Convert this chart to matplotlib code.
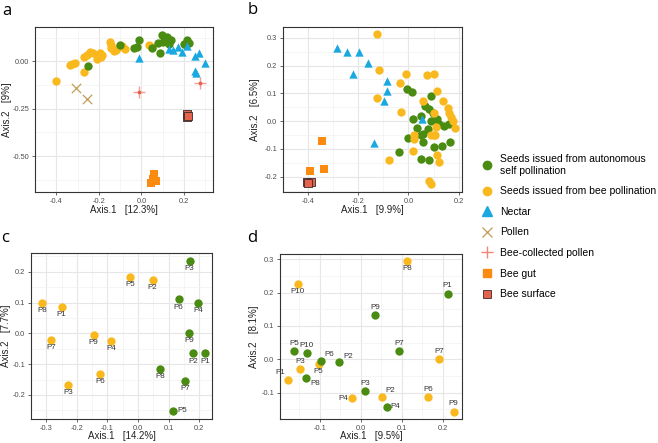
import numpy as np
import matplotlib
matplotlib.use("Agg")
import matplotlib.pyplot as plt
from matplotlib.lines import Line2D

plt.rcParams['font.family'] = ['Liberation Sans', 'DejaVu Sans']

# ---- panel a ----
a_auto_x = [-0.25, -0.10, -0.036, -0.02, -0.01, 0.05, 0.087, 0.08, 0.095, 0.11, 0.12, 0.14, 0.13,
            0.10, 0.20, 0.215, 0.225, 0.21]
a_auto_y = [-0.025, 0.086, 0.07, 0.075, 0.11, 0.07, 0.044, 0.095, 0.14, 0.12, 0.13, 0.11, 0.09,
            0.10, 0.09, 0.11, 0.095, 0.085]
a_bee_x = [-0.40, -0.335, -0.325, -0.313, -0.27, -0.27, -0.255, -0.24, -0.227, -0.197, -0.19,
           -0.184, -0.146, -0.142, -0.145, -0.118, -0.105, -0.09, -0.075, 0.035, 0.05, -0.13, -0.21]
a_bee_y = [-0.104, -0.02, -0.012, -0.007, -0.055, 0.025, 0.035, 0.05, 0.045, 0.045, 0.025,
           0.035, 0.104, 0.07, 0.085, 0.06, 0.075, 0.08, 0.065, 0.087, 0.076, 0.055, 0.01]
a_nectar_x = [-0.01, 0.13, 0.15, 0.17, 0.19, 0.215, 0.25, 0.27, 0.30, 0.25, 0.255]
a_nectar_y = [0.017, 0.065, 0.06, 0.075, 0.05, 0.08, 0.03, 0.044, -0.01, -0.05, -0.06]
a_pollen_x = [-0.306, -0.258]
a_pollen_y = [-0.143, -0.20]
a_bcp_x = [-0.011, 0.277]
a_bcp_y = [-0.164, -0.116]
a_gut_x = [0.06, 0.047, 0.07, 0.055]
a_gut_y = [-0.596, -0.64, -0.63, -0.62]
a_surf_x = [0.216, 0.212, 0.22]
a_surf_y = [-0.28, -0.295, -0.288]

# ---- panel b ----
b_auto_x = [-0.006, 0.015, 0.089, 0.066, 0.098, 0.08, 0.112, 0.14, 0.162, 0.12, 0.02, 0.05,
            0.035, 0.06, 0.076, 0.0, 0.06, 0.10, 0.135, 0.165, -0.038, 0.051, 0.08, 0.05, 0.09]
b_auto_y = [0.115, 0.105, 0.09, 0.054, 0.03, 0.045, 0.007, -0.018, -0.01, -0.01, 0.007, 0.02,
            -0.025, -0.045, -0.03, -0.06, -0.075, -0.093, -0.09, -0.075, -0.11, -0.137, -0.14,
            -0.05, 0.0]
b_bee_x = [-0.125, -0.117, -0.01, 0.075, 0.10, -0.034, 0.113, -0.123, -0.028, 0.06, 0.139,
           0.158, 0.162, 0.17, 0.178, 0.187, 0.10, 0.024, 0.022, 0.017, 0.10, 0.107, 0.115,
           0.12, -0.077, 0.083, 0.089, 0.11, 0.09]
b_bee_y = [0.313, 0.183, 0.169, 0.165, 0.17, 0.138, 0.108, 0.084, 0.032, 0.073, 0.073, 0.046,
           0.03, 0.015, 0.0, -0.025, 0.03, -0.05, -0.065, -0.107, -0.05, -0.05, -0.122, -0.148,
           -0.14, -0.216, -0.227, -0.02, -0.05]
b_nectar_x = [-0.286, -0.244, -0.196, -0.16, -0.22, -0.086, -0.086, -0.098, -0.135, 0.054]
b_nectar_y = [0.264, 0.249, 0.249, 0.211, 0.168, 0.146, 0.109, 0.073, -0.077, 0.006]
b_gut_x = [-0.345, -0.337, -0.393]
b_gut_y = [-0.071, -0.174, -0.179]
b_surf_x = [-0.405, -0.387, -0.398]
b_surf_y = [-0.218, -0.218, -0.222]

# ---- panel c ----
c_bee_lab = ['P8', 'P1', 'P7', 'P3', 'P9', 'P4', 'P6', 'P5', 'P2']
c_bee_x = [-0.314, -0.25, -0.283, -0.228, -0.145, -0.089, -0.123, -0.025, 0.048]
c_bee_y = [0.10, 0.085, -0.02, -0.168, -0.005, -0.024, -0.131, 0.184, 0.174]
c_auto_lab = ['P3', 'P6', 'P4', 'P9', 'P2', 'P1', 'P8', 'P7', 'P5']
c_auto_x = [0.169, 0.133, 0.196, 0.167, 0.181, 0.219, 0.072, 0.153, 0.114]
c_auto_y = [0.234, 0.11, 0.10, 0.001, -0.065, -0.065, -0.116, -0.153, -0.252]

# ---- panel d ----
d_bee_lab = ['P8', 'P10', 'P1', 'P3', 'P5', 'P4', 'P2', 'P6', 'P7', 'P9']
d_bee_x = [0.114, -0.154, -0.178, -0.148, -0.103, -0.021, 0.051, 0.165, 0.192, 0.227]
d_bee_y = [0.295, 0.226, -0.062, -0.03, -0.015, -0.117, -0.113, -0.114, 0.001, -0.157]
d_auto_lab = ['P1', 'P9', 'P7', 'P2', 'P6', 'P10', 'P5', 'P8', 'P3', 'P4']
d_auto_x = [0.212, 0.035, 0.093, -0.052, -0.098, -0.132, -0.163, -0.134, 0.01, 0.063]
d_auto_y = [0.197, 0.132, 0.025, -0.009, -0.004, 0.018, 0.025, -0.055, -0.095, -0.143]

GREEN = "#4A8B12"
YELLOW = "#F9B91E"
BLUE = "#1AA8E0"
TAN = "#C39B55"
SALMON = "#F0857A"
ORANGE = "#FA8A10"
RED = "#E3634D"
MS = 36

W, H = 658, 443
fig = plt.figure(figsize=(W / 100, H / 100), dpi=100)


def make_ax(l, r, t, b):
    return fig.add_axes([l / W, 1 - b / H, (r - l) / W, (b - t) / H])


def style(ax, xlim, ylim, xt, yt, ytl, xlab, ylab, xlab_y, ylab_x):
    ax.set_xlim(xlim)
    ax.set_ylim(ylim)
    ax.set_xticks(xt)
    ax.set_yticks(yt)
    ax.set_yticklabels(ytl)
    ax.set_xticklabels(["%.1f" % v for v in xt])
    mx = np.arange(xt[0] - (xt[1] - xt[0]) / 2, xlim[1], xt[1] - xt[0])
    my = np.arange(yt[0] - (yt[1] - yt[0]) / 2, ylim[1], yt[1] - yt[0])
    ax.set_xticks(mx, minor=True)
    ax.set_yticks(my, minor=True)
    ax.grid(which='major', color='#E6E6E6', lw=0.8)
    ax.grid(which='minor', color='#F2F2F2', lw=0.5)
    ax.set_axisbelow(True)
    ax.tick_params(which='major', labelsize=5.3, colors='#4D4D4D', length=2.5, width=0.6, pad=1.5)
    ax.tick_params(which='minor', length=0)
    for s in ax.spines.values():
        s.set_color('#333333')
        s.set_linewidth(0.8)
    xl = ax.set_xlabel(xlab, fontsize=7, color='#222222')
    yl = ax.set_ylabel(ylab, fontsize=7, color='#222222')
    pos = ax.get_position()
    ax.xaxis.set_label_coords(pos.x0 + pos.width / 2, 1 - xlab_y / H, transform=fig.transFigure)
    ax.yaxis.set_label_coords(ylab_x / W, pos.y0 + pos.height / 2, transform=fig.transFigure)
    xl.set_va('center')
    yl.set_va('center')


# panel a
ax = make_ax(35, 213, 27, 192)
ax.scatter(a_bee_x, a_bee_y, s=MS, c=YELLOW, lw=0)
ax.scatter(a_auto_x, a_auto_y, s=MS, c=GREEN, lw=0)
ax.scatter(a_nectar_x, a_nectar_y, s=MS, c=BLUE, marker='^', lw=0)
ax.scatter(a_pollen_x, a_pollen_y, s=45, c=TAN, marker='x', lw=0.9)
ax.scatter(a_bcp_x, a_bcp_y, s=70, c=SALMON, marker='+', lw=1.0, alpha=0.8)
ax.scatter(a_bcp_x, a_bcp_y, s=3, c=RED)
ax.scatter(a_gut_x, a_gut_y, s=MS, c=ORANGE, marker='s', lw=0)
ax.scatter(a_surf_x, a_surf_y, s=MS, c=RED, marker='s', edgecolors='#3A2A2A', lw=0.6)
style(ax, (-0.436, 0.336), (-0.69, 0.181), [-0.4, -0.2, 0.0, 0.2], [-0.5, -0.25, 0.0],
      ['-0.50', '-0.25', '0.00'], 'Axis.1   [12.3%]', 'Axis.2   [9%]', 210, 7)

# panel b
ax = make_ax(282.7, 461.7, 26.7, 192)
ax.scatter(b_auto_x, b_auto_y, s=MS, c=GREEN, lw=0)
ax.scatter(b_bee_x, b_bee_y, s=MS, c=YELLOW, lw=0)
ax.scatter(b_nectar_x, b_nectar_y, s=MS, c=BLUE, marker='^', lw=0)
ax.scatter(b_gut_x, b_gut_y, s=MS, c=ORANGE, marker='s', lw=0)
ax.scatter(b_surf_x, b_surf_y, s=MS, c=RED, marker='s', edgecolors='#3A2A2A', lw=0.6)
style(ax, (-0.426, 0.212), (-0.255, 0.34), [-0.4, -0.2, 0.0, 0.2],
      [-0.2, -0.1, 0.0, 0.1, 0.2, 0.3], ['-0.2', '-0.1', '0.0', '0.1', '0.2', '0.3'],
      'Axis.1   [9.9%]', 'Axis.2   [6.5%]', 210, 255)

OFF = {'below': (0, -3, 'center', 'top'), 'above': (0, 3, 'center', 'bottom'),
       'right': (3, 0, 'left', 'center'), 'left': (-3, 0, 'right', 'center'),
       'above-right': (3, 2, 'left', 'bottom'), 'above-left': (-2, 3, 'right', 'bottom'),
       'below-right': (3, -2, 'left', 'top')}


def label(ax, xs, ys, labs, where):
    for x, y, t in zip(xs, ys, labs):
        dx, dy, ha, va = OFF[where.get(t, 'below')]
        ax.annotate(t, (x, y), xytext=(dx, dy), textcoords='offset points', ha=ha, va=va,
                    fontsize=5.8, color='#333333')


# panel c
ax = make_ax(31, 212.3, 253.3, 419)
ax.scatter(c_bee_x, c_bee_y, s=MS, c=YELLOW, lw=0)
ax.scatter(c_auto_x, c_auto_y, s=MS, c=GREEN, lw=0)
label(ax, c_bee_x, c_bee_y, c_bee_lab, {})
label(ax, c_auto_x, c_auto_y, c_auto_lab, {'P5': 'right'})
style(ax, (-0.34, 0.243), (-0.278, 0.26), [-0.3, -0.2, -0.1, 0.0, 0.1, 0.2],
      [-0.2, -0.1, 0.0, 0.1, 0.2], ['-0.2', '-0.1', '0.0', '0.1', '0.2'],
      'Axis.1   [14.2%]', 'Axis.2   [7.7%]', 436, 6)

# panel d
ax = make_ax(280, 462.3, 254.3, 419)
ax.scatter(d_bee_x, d_bee_y, s=MS, c=YELLOW, lw=0)
ax.scatter(d_auto_x, d_auto_y, s=MS, c=GREEN, lw=0)
label(ax, d_bee_x, d_bee_y, d_bee_lab,
      {'P8': 'below', 'P10': 'below', 'P1': 'above-left', 'P3': 'above', 'P5': 'below',
       'P4': 'left', 'P2': 'above-right', 'P6': 'above', 'P7': 'above', 'P9': 'above'})
label(ax, d_auto_x, d_auto_y, d_auto_lab,
      {'P1': 'above', 'P9': 'above', 'P7': 'above', 'P2': 'above-right', 'P6': 'above-right',
       'P10': 'above', 'P5': 'above', 'P8': 'below-right', 'P3': 'above', 'P4': 'right'})
style(ax, (-0.197, 0.248), (-0.179, 0.315), [-0.1, 0.0, 0.1, 0.2],
      [-0.1, 0.0, 0.1, 0.2, 0.3], ['-0.1', '0.0', '0.1', '0.2', '0.3'],
      'Axis.1   [9.5%]', 'Axis.2   [8.1%]', 436, 254)

# panel letters
for t, x, y in [('a', 2, 3), ('b', 248, 2), ('c', 1, 230), ('d', 247, 230)]:
    fig.text(x / W, 1 - y / H, t, fontsize=12, family='Open Sans', va='top', ha='left')

# legend
legend_labels = ['Seeds issued from autonomous\nself pollination', 'Seeds issued from bee pollination',
                 'Nectar', 'Pollen', 'Bee-collected pollen', 'Bee gut', 'Bee surface']
handles = [
    Line2D([], [], ls='', marker='o', ms=6, mfc=GREEN, mec=GREEN),
    Line2D([], [], ls='', marker='o', ms=6, mfc=YELLOW, mec=YELLOW),
    Line2D([], [], ls='', marker='^', ms=6.5, mfc=BLUE, mec=BLUE),
    Line2D([], [], ls='', marker='x', ms=6.5, mec=TAN, mew=0.9),
    Line2D([], [], ls='', marker='+', ms=8, mec=SALMON, mew=1.0),
    Line2D([], [], ls='', marker='s', ms=5.5, mfc=ORANGE, mec=ORANGE),
    Line2D([], [], ls='', marker='s', ms=5.5, mfc=RED, mec='#3A2A2A', mew=0.6),
]
fig.legend(handles, legend_labels, loc='upper left', bbox_to_anchor=(481 / W, 1 - 154 / H),
           frameon=False, fontsize=7.5, handlelength=1.2, handletextpad=0.6,
           labelspacing=1.02, borderaxespad=0, borderpad=0)

fig.savefig("out.png", dpi=100)
